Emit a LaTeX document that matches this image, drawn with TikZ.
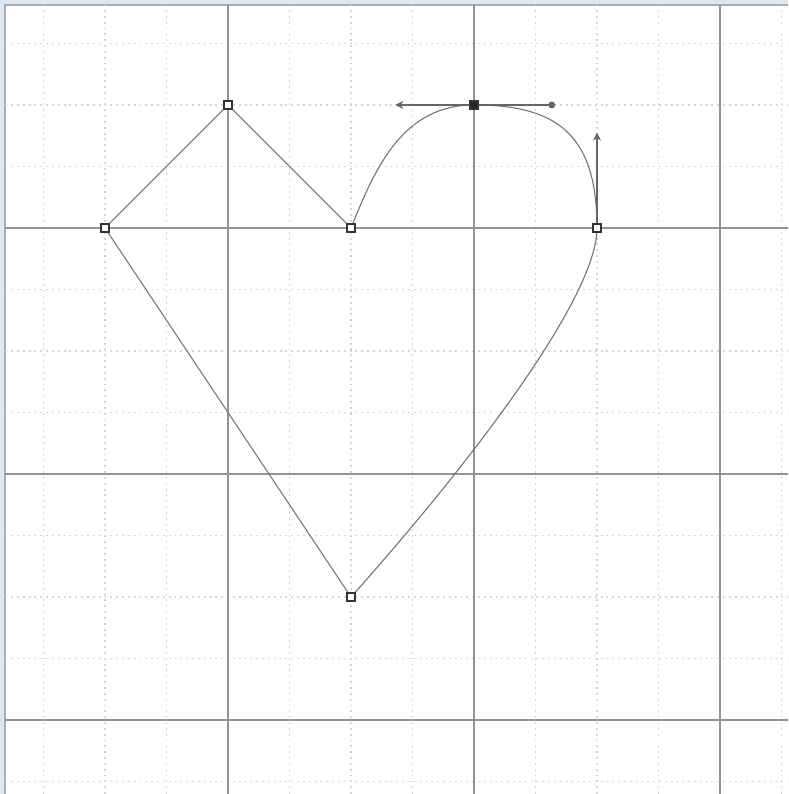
\documentclass[tikz,border=0pt]{standalone}
\usepackage{tikz}
\usepackage{xcolor}
\usetikzlibrary{arrows.meta}

\definecolor{framebl}{HTML}{DCE8F4}
\definecolor{framegray}{HTML}{A8ADB3}

\tikzset{
  minorgrid/.style={gray!32, line width=0.5pt, dash pattern=on 0.9pt off 1.8pt},
  majorgrid/.style={gray!85, line width=1.1pt},
  outline/.style={black!55, line width=0.5pt},
  handle/.style={black!60, line width=0.7pt},
  knot/.style={draw=black!80, fill=white, line width=0.5pt, inner sep=0pt, minimum size=1.3mm},
}

\begin{document}
\begin{tikzpicture}
  \useasboundingbox (-3.707,-9.203) rectangle (9.106,3.707);
  \fill[white] (-3.707,-9.203) rectangle (9.106,3.707);
  % window frame
  \fill[framebl] (-3.707,-9.203) rectangle (-3.642,3.707);
  \fill[framebl] (-3.707,3.642) rectangle (9.106,3.707);
  \draw[framegray, line width=0.9pt] (-3.621,-9.203) -- (-3.621,3.621) -- (9.106,3.621);
  % grid
  \foreach \x in {-3,...,9} {
    \draw[minorgrid] (\x,-9.203) -- (\x,3.621);
  }
  \foreach \y in {-9,...,3} {
    \draw[minorgrid] (-3.621,\y) -- (9.106,\y);
  }
  \foreach \x in {0,4,8} {
    \draw[majorgrid] (\x,-9.203) -- (\x,3.621);
  }
  \foreach \y in {-8,-4,0} {
    \draw[majorgrid] (-3.621,\y) -- (9.106,\y);
  }
  % heart
  \coordinate (a) at (-2,0);
  \coordinate (b) at (0,2);
  \coordinate (c) at (2,0);
  \coordinate (d) at (4,2);
  \coordinate (e) at (6,0);
  \coordinate (f) at (2,-6);
  \coordinate (dl) at (2.72,2);
  \coordinate (dr) at (5.32,2);
  \coordinate (eu) at (6,1.55);
  \draw[outline] (a) -- (b) -- (c) .. controls (2.4,1) and (2.85,2) .. (d)
    .. controls (dr) and (eu) .. (e)
    .. controls (6,-1.2) and (3.7,-4.1) .. (f) -- cycle;
  % handles
  \draw[handle, -{Stealth[length=1.3mm, width=1.3mm]}] (d) -- (dl);
  \draw[handle, -{Circle[length=1.1mm]}] (d) -- (dr);
  \draw[handle, -{Stealth[length=1.3mm, width=1.3mm]}] (e) -- (eu);
  \foreach \p in {a,b,c,e,f} {
    \node[knot] (k\p) at (\p) {};
  }
  \node[knot, fill=black!85] (kd) at (d) {};
\end{tikzpicture}
\end{document}
